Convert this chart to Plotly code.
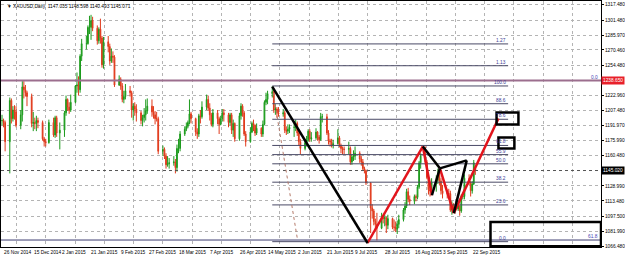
import plotly.graph_objects as go
import pandas as pd

# ---------------- data (XAUUSD daily) ----------------
start_date = "2014-11-26"
end_date = "2015-09-25"
holidays = ["2014-12-25", "2015-01-01"]

open_ = [
    1197, 1197, 1195,
    1175, 1218, 1199, 1208, 1206, 1192, 1203, 1232, 1229, 1226, 1222, 1194, 1195, 1194, 1197, 1195, 1178, 1175, 1174, 1195, 1182, 1200,
    1184, 1187, 1205, 1219, 1211, 1208, 1216, 1233, 1234, 1229, 1264, 1277, 1277, 1294, 1294, 1301, 1293, 1280, 1292, 1283, 1255,
    1279, 1274, 1259, 1264, 1263, 1234, 1240, 1233, 1219, 1222, 1228, 1226, 1208, 1212, 1209, 1205, 1197, 1200, 1203, 1207,
    1212, 1206, 1203, 1199, 1199, 1165, 1167, 1160, 1151, 1152, 1153, 1154, 1148, 1168, 1168, 1183, 1188, 1191, 1195, 1204, 1199, 1185,
    1183, 1202, 1201, 1211, 1219, 1210, 1203, 1193, 1205, 1199, 1193, 1199, 1205, 1203, 1195, 1203, 1187, 1194, 1178, 1202, 1212, 1205,
    1183, 1175, 1185, 1194, 1192, 1184, 1189, 1183, 1193, 1216, 1219, 1225, 1227, 1208, 1209, 1205, 1204, 1205, 1187, 1186, 1188,
    1190, 1190, 1194, 1184, 1175, 1168, 1174, 1177, 1186, 1178, 1179, 1185, 1180, 1177, 1201, 1201, 1184, 1176, 1175, 1171, 1173, 1179,
    1171, 1168, 1167, 1167, 1168, 1154, 1159, 1160, 1163, 1157, 1154, 1147, 1145, 1132, 1106, 1103, 1092, 1089, 1085, 1096, 1095, 1096, 1088,
    1095, 1086, 1086, 1084, 1089, 1094, 1104, 1108, 1123, 1115, 1113, 1118, 1117, 1128, 1153, 1160, 1154, 1138, 1125, 1124, 1133,
    1135, 1140, 1134, 1124, 1121, 1121, 1121, 1104, 1109, 1105, 1108, 1103, 1118, 1118, 1137, 1133, 1124, 1131, 1147.035,
]
high = [
    1203, 1199, 1197,
    1221, 1220, 1212, 1213, 1212, 1208, 1238, 1238, 1234, 1228, 1225, 1206, 1200, 1202, 1200, 1197, 1180, 1178, 1198, 1200, 1202, 1202,
    1195, 1207, 1223, 1220, 1216, 1224, 1234, 1247, 1243, 1266, 1282, 1285, 1296, 1306, 1307, 1305, 1296, 1294, 1303, 1285, 1284,
    1285, 1277, 1272, 1269, 1265, 1244, 1242, 1236, 1228, 1235, 1233, 1228, 1215, 1216, 1214, 1207, 1203, 1210, 1219, 1220,
    1219, 1212, 1207, 1206, 1201, 1171, 1169, 1163, 1160, 1158, 1160, 1157, 1172, 1178, 1186, 1191, 1195, 1197, 1219, 1206, 1200, 1189,
    1204, 1208, 1217, 1224, 1223, 1215, 1205, 1209, 1208, 1201, 1202, 1209, 1209, 1205, 1205, 1205, 1198, 1195, 1205, 1215, 1214, 1207,
    1186, 1190, 1196, 1198, 1193, 1194, 1190, 1197, 1218, 1226, 1228, 1232.6, 1229, 1214, 1211, 1211, 1209, 1207, 1191, 1193, 1193,
    1196, 1198, 1196, 1188, 1178, 1178, 1181, 1188, 1188, 1185, 1189, 1186, 1182, 1205, 1204, 1204, 1187, 1178, 1178, 1177, 1188, 1181,
    1173, 1170, 1170, 1175, 1170, 1162, 1166, 1170, 1165, 1160, 1157, 1149, 1146, 1133, 1110, 1105, 1095, 1101, 1101, 1098, 1099, 1097, 1099,
    1096, 1094, 1092, 1093, 1099, 1106, 1112, 1126, 1127, 1119, 1120, 1120, 1130, 1155, 1163, 1170, 1156, 1142, 1128, 1137, 1140,
    1147, 1143, 1137, 1130, 1124, 1126, 1124, 1113, 1111, 1111, 1109, 1120, 1122, 1141, 1141, 1134, 1134, 1156, 1148.598,
]
low = [
    1192, 1190, 1165,
    1142, 1194, 1196, 1198, 1190, 1188, 1196, 1220, 1222, 1212, 1190, 1186, 1188, 1186, 1189, 1176, 1170, 1170, 1173, 1180, 1179, 1180,
    1167, 1180, 1202, 1207, 1204, 1206, 1215, 1226, 1223, 1226, 1259, 1271, 1276, 1287, 1281, 1290, 1276, 1277, 1277, 1252, 1251,
    1268, 1255, 1257, 1257, 1232, 1233, 1229, 1216, 1215, 1219, 1222, 1200, 1197, 1202, 1196, 1193, 1191, 1195, 1197, 1204,
    1201, 1199, 1193, 1196, 1162, 1160, 1157, 1147, 1149, 1147, 1150, 1142, 1144, 1163, 1165, 1181, 1186, 1189, 1193, 1194, 1181, 1178,
    1180, 1194, 1199, 1208, 1207, 1197, 1191, 1190, 1193, 1183, 1192, 1196, 1196, 1190, 1192, 1183, 1180, 1175, 1176, 1198, 1201, 1181,
    1170, 1174, 1184, 1186, 1181, 1182, 1180, 1180, 1192, 1213, 1214, 1221, 1205, 1203, 1200, 1201, 1201, 1184, 1182, 1183, 1184,
    1180, 1186, 1181, 1171, 1162, 1166, 1170, 1175, 1175, 1175, 1177, 1176, 1173, 1176, 1195, 1182, 1172, 1170, 1169, 1168, 1172, 1169,
    1163, 1162, 1162, 1162, 1151, 1151, 1155, 1156, 1153, 1150, 1145, 1142, 1130, 1080, 1095, 1088, 1083, 1072.3, 1084, 1090, 1087, 1080, 1084,
    1084, 1082, 1081, 1079, 1085, 1092, 1100, 1106, 1112, 1109, 1110, 1113, 1115, 1126, 1147, 1151, 1136, 1120, 1118, 1120, 1123,
    1131, 1130, 1120, 1116, 1116, 1116, 1102, 1099, 1102, 1103, 1098, 1101, 1115, 1115, 1130, 1118, 1121, 1130, 1140.493,
]
close = [
    1197, 1195, 1175,
    1218, 1199, 1208, 1206, 1192, 1203, 1232, 1229, 1226, 1222, 1194, 1195, 1194, 1197, 1195, 1178, 1175, 1174, 1195, 1182, 1200, 1184,
    1187, 1205, 1219, 1211, 1208, 1216, 1233, 1234, 1229, 1264, 1277, 1277, 1294, 1294, 1301, 1293, 1280, 1292, 1283, 1255, 1279,
    1274, 1259, 1264, 1263, 1234, 1240, 1233, 1219, 1222, 1228, 1226, 1208, 1212, 1209, 1205, 1197, 1200, 1203, 1207, 1212,
    1206, 1203, 1199, 1199, 1165, 1167, 1160, 1151, 1152, 1153, 1154, 1148, 1168, 1168, 1183, 1188, 1191, 1195, 1204, 1199, 1185, 1183,
    1202, 1201, 1211, 1219, 1210, 1203, 1193, 1205, 1199, 1193, 1199, 1205, 1203, 1195, 1203, 1187, 1194, 1178, 1202, 1212, 1205, 1183,
    1175, 1185, 1194, 1192, 1184, 1189, 1183, 1193, 1216, 1219, 1225, 1227, 1208, 1209, 1205, 1204, 1205, 1187, 1186, 1188, 1190,
    1190, 1194, 1184, 1175, 1168, 1174, 1177, 1186, 1178, 1179, 1185, 1180, 1177, 1201, 1201, 1184, 1176, 1175, 1171, 1173, 1179, 1171,
    1168, 1167, 1167, 1168, 1154, 1159, 1160, 1163, 1157, 1154, 1147, 1145, 1132, 1106, 1103, 1092, 1089, 1085, 1096, 1095, 1096, 1088, 1095,
    1086, 1086, 1084, 1089, 1094, 1104, 1108, 1123, 1115, 1113, 1118, 1117, 1128, 1153, 1160, 1154, 1138, 1125, 1124, 1133, 1135,
    1140, 1134, 1124, 1121, 1121, 1121, 1104, 1109, 1105, 1108, 1103, 1118, 1118, 1137, 1133, 1124, 1131, 1153, 1145.071,
]

title_text = "\u25bc XAUUSD,Daily  1147.035 1148.598 1140.493 1145.071"

x_tick_dates = ["2014-11-26", "2014-12-15", "2015-01-02", "2015-01-21", "2015-02-09", "2015-02-27",
                "2015-03-18", "2015-04-07", "2015-04-26", "2015-05-14", "2015-06-02", "2015-06-21",
                "2015-07-09", "2015-07-28", "2015-08-16", "2015-09-03", "2015-09-22"]
x_tick_labels = ["26 Nov 2014", "15 Dec 2014", "2 Jan 2015", "21 Jan 2015", "9 Feb 2015", "27 Feb 2015",
                 "18 Mar 2015", "7 Apr 2015", "26 Apr 2015", "14 May 2015", "2 Jun 2015", "21 Jun 2015",
                 "9 Jul 2015", "28 Jul 2015", "16 Aug 2015", "3 Sep 2015", "22 Sep 2015"]

y_tick_vals = [1317.48, 1301.48, 1285.97, 1270.46, 1254.48, 1238.65, 1222.96, 1207.48, 1191.97,
               1175.99, 1160.48, 1145.02, 1128.99, 1113.48, 1097.50, 1081.99, 1066.48]
y_tick_text = ["1317.480", "1301.480", "1285.970", "1270.460", "1254.480", "", "1222.960", "1207.480",
               "1191.970", "1175.990", "1160.480", "", "1128.990", "1113.480", "1097.500", "1081.990", "1066.480"]

resistance_price = 1238.65
bid_price = 1145.02
lower_level_price = 1072.7

# Fibonacci retracement (May high -> July low)
fib_start, fib_end = "2015-05-18", "2015-10-16"
fib_low, fib_high = 1071.0, 1233.0
fib_levels = [0.0, 23.6, 38.2, 50.0, 55.9, 61.8, 78.6, 88.6, 100.0, 113.0, 127.0]
fib_labels = ["0.0", "23.6", "38.2", "50.0", "55.9", "61.8", "78.6", "88.6", "100.0", "1.13", "1.27"]

# Harmonic pattern points (date, price)
pX = ("2015-05-18", 1232.3)
pA = ("2015-07-18", 1069.6)
pB = ("2015-08-22 10:00", 1170.1)
pC = ("2015-08-28 05:00", 1119.3)
pP1 = ("2015-09-02 07:00", 1147.3)
pP3 = ("2015-09-11 05:00", 1100.7)
pP2 = ("2015-09-19 12:00", 1155.6)
pD = ("2015-10-09 19:00", 1199.1)
black_legs = [(pX, pA), (pB, pP1), (pC, pP1), (pP1, pP2), (pP2, pP3)]
red_legs = [(pA, pB), (pB, pC), (pP1, pP3), (pP3, pD)]
dotted_trend = (("2015-05-18 14:00", 1226.1), ("2015-06-03 05:00", 1072.7))

boxes = [  # (x0, x1, y0, y1); x1=None -> right edge of plot
    ("2015-10-08 14:00", "2015-10-22 14:00", 1192.9, 1205.3),
    ("2015-10-09 19:00", "2015-10-20", 1168.0, 1179.4),
    ("2015-10-04 17:00", None, 1066.2, 1091.4),
]

# ---------------- figure ----------------
dates = pd.bdate_range(start_date, end_date)
dates = dates[~dates.isin(pd.to_datetime(holidays))]
n = min(len(dates), len(open_), len(high), len(low), len(close))

FONT = "Liberation Sans"
FS = 4.8
PX_PER_DAY = 1.57
t0 = pd.Timestamp(start_date)
x_start = t0 - pd.Timedelta(days=1 / PX_PER_DAY)
x_end = x_start + pd.Timedelta(days=603 / PX_PER_DAY)
grid_x = [t0 + pd.Timedelta(days=(14.7 + 29.4 * k) / PX_PER_DAY) for k in range(20)]

fig = go.Figure()
fig.add_trace(go.Candlestick(
    x=dates[:n], open=open_[:n], high=high[:n], low=low[:n], close=close[:n],
    increasing=dict(line=dict(color="#1c9a1c", width=1), fillcolor="#2dbb2d"),
    decreasing=dict(line=dict(color="#e03a1c", width=1), fillcolor="#f04a26"),
    whiskerwidth=0, hoverinfo="skip", showlegend=False,
))

shapes = []
# full width lines
shapes.append(dict(type="line", xref="paper", x0=0, x1=1, yref="y", y0=lower_level_price, y1=lower_level_price,
                   line=dict(color="#3c3c70", width=1), layer="above"))
shapes.append(dict(type="line", xref="paper", x0=0, x1=1, yref="y", y0=bid_price, y1=bid_price,
                   line=dict(color="#555555", width=1, dash="dot"), layer="above"))
# fib lines
for lv in fib_levels:
    p = fib_low + (fib_high - fib_low) * lv / 100.0
    shapes.append(dict(type="line", xref="x", yref="y", x0=fib_start, x1=fib_end, y0=p, y1=p,
                       line=dict(color="#4a4a66", width=1), layer="above"))
shapes.append(dict(type="line", xref="paper", x0=0, x1=1, yref="y", y0=resistance_price, y1=resistance_price,
                   line=dict(color="#9c6e8e", width=2), layer="above"))
# dotted trend
shapes.append(dict(type="line", xref="x", yref="y", x0=dotted_trend[0][0], y0=dotted_trend[0][1],
                   x1=dotted_trend[1][0], y1=dotted_trend[1][1], line=dict(color="#b57a6a", width=1, dash="dot"),
                   layer="above"))
for a, b in red_legs:
    shapes.append(dict(type="line", xref="x", yref="y", x0=a[0], y0=a[1], x1=b[0], y1=b[1],
                       line=dict(color="#e2141c", width=2.5), layer="above"))
for a, b in black_legs:
    shapes.append(dict(type="line", xref="x", yref="y", x0=a[0], y0=a[1], x1=b[0], y1=b[1],
                       line=dict(color="#000000", width=2.5), layer="above"))
for x0, x1, y0, y1 in boxes:
    if x1 is None:
        shapes.append(dict(type="rect", xref="x", yref="y", x0=x0, x1=x_end, y0=y0, y1=y1,
                           line=dict(color="#000000", width=2.5), layer="above"))
    else:
        shapes.append(dict(type="rect", xref="x", yref="y", x0=x0, x1=x1, y0=y0, y1=y1,
                           line=dict(color="#000000", width=2.5), layer="above"))

ann = []
ann.append(dict(text=title_text, xref="paper", yref="paper", x=0, y=1, xanchor="left", yanchor="top",
                xshift=4, yshift=-1, showarrow=False, font=dict(family=FONT, size=FS, color="#000000")))
for d, t in zip(x_tick_dates, x_tick_labels):
    ann.append(dict(text=t, xref="x", yref="paper", x=d, y=0, xanchor="left", yanchor="top", yshift=-1,
                    showarrow=False, font=dict(family=FONT, size=FS, color="#000000")))
for lv, lab in zip(fib_levels, fib_labels):
    p = fib_low + (fib_high - fib_low) * lv / 100.0
    ann.append(dict(text=lab, xref="x", yref="y", x=fib_end, y=p, xanchor="right", yanchor="bottom", yshift=-1,
                    showarrow=False, font=dict(family=FONT, size=FS, color="#3c3c96")))
ann.append(dict(text="61.8", xref="paper", yref="y", x=1, y=lower_level_price, xanchor="right", yanchor="bottom",
                xshift=-1, yshift=-1, showarrow=False, font=dict(family=FONT, size=FS, color="#4646b4")))
ann.append(dict(text="0.0", xref="paper", yref="y", x=1, y=resistance_price, xanchor="right", yanchor="bottom",
                xshift=-1, yshift=-1, showarrow=False, font=dict(family=FONT, size=FS, color="#4646b4")))
ann.append(dict(text="1238.650", xref="paper", yref="y", x=1, y=resistance_price, xanchor="left", yanchor="middle",
                xshift=0, showarrow=False, bgcolor="#e8202a", borderpad=1,
                font=dict(family=FONT, size=FS, color="#ffffff")))
ann.append(dict(text="1145.020", xref="paper", yref="y", x=1, y=bid_price, xanchor="left", yanchor="middle",
                xshift=0, showarrow=False, bgcolor="#000000", borderpad=1,
                font=dict(family=FONT, size=FS, color="#ffffff")))

fig.update_layout(
    width=625, height=256,
    margin=dict(l=0, r=22, t=0, b=9),
    paper_bgcolor="#ffffff", plot_bgcolor="#ffffff",
    shapes=shapes, annotations=ann,
    showlegend=False,
    xaxis=dict(type="date", range=[x_start, x_end], rangeslider=dict(visible=False),
               tickvals=grid_x, showticklabels=False, ticks="",
               showgrid=True, gridcolor="#b4b4b4", griddash="dot", gridwidth=1,
               showline=True, linecolor="#000000", linewidth=1, mirror=True, zeroline=False),
    yaxis=dict(side="right", range=[1065.44, 1321.4], tickvals=y_tick_vals, ticktext=y_tick_text,
               ticks="outside", ticklen=2, tickcolor="#000000",
               tickfont=dict(family=FONT, size=FS, color="#000000"),
               showgrid=True, gridcolor="#b4b4b4", griddash="dot", gridwidth=1,
               showline=True, linecolor="#000000", linewidth=1, mirror=True, zeroline=False),
)

fig.write_html("out.html")
